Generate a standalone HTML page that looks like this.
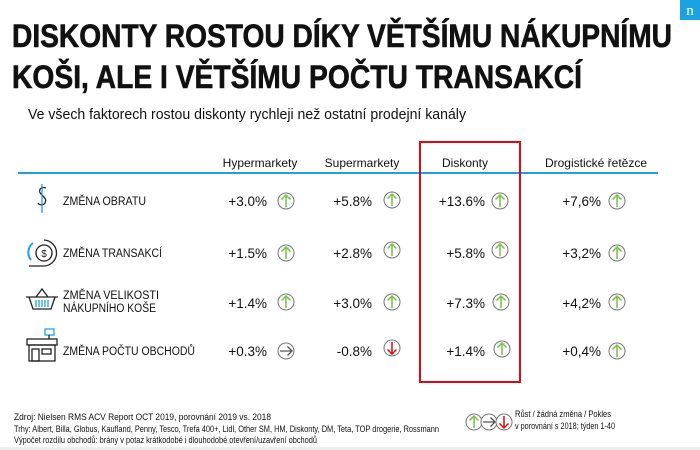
<!DOCTYPE html>
<html><head><meta charset="utf-8"><style>
html,body{margin:0;padding:0;background:#fff;width:700px;height:450px;overflow:hidden}
svg{display:block}
text{font-family:"Liberation Sans",Arial,sans-serif;fill:#111}
</style></head><body>
<svg width="700" height="450" viewBox="0 0 700 450" xmlns="http://www.w3.org/2000/svg">
<defs>
<g id="up"><circle r="8" fill="#fff" stroke="#777" stroke-width="1"/><path d="M0 6V-6M-4.5 -1.5L0 -6L4.5 -1.5" fill="none" stroke="#7ac143" stroke-width="1.5"/></g>
<g id="rt"><circle r="8" fill="#fff" stroke="#777" stroke-width="1"/><path d="M-6 0H6M1.5 -4.5L6 0L1.5 4.5" fill="none" stroke="#555" stroke-width="1.3"/></g>
<g id="dn"><circle r="8" fill="#fff" stroke="#777" stroke-width="1"/><path d="M0 -6V6M-4.5 1.5L0 6L4.5 1.5" fill="none" stroke="#e30613" stroke-width="1.5"/></g>
</defs>
<rect x="680" y="0" width="20" height="20" fill="#1aa3e0"/>
<text x="690" y="15" text-anchor="middle" font-size="15" style="fill:#fff;font-family:'Liberation Serif',serif">n</text>
<text x="12" y="47" font-size="32" font-weight="bold" textLength="660" lengthAdjust="spacingAndGlyphs" stroke="#111" stroke-width="0.6">DISKONTY ROSTOU DÍKY VĚTŠÍMU NÁKUPNÍMU</text>
<text x="12" y="88" font-size="32" font-weight="bold" textLength="570" lengthAdjust="spacingAndGlyphs" stroke="#111" stroke-width="0.6">KOŠI, ALE I VĚTŠÍMU POČTU TRANSAKCÍ</text>
<text x="28" y="119" font-size="15" textLength="438" lengthAdjust="spacingAndGlyphs">Ve všech faktorech rostou diskonty rychleji než ostatní prodejní kanály</text>
<g font-size="12" text-anchor="middle">
<text x="260" y="167">Hypermarkety</text><text x="362" y="167">Supermarkety</text>
<text x="465" y="167">Diskonty</text><text x="596" y="167">Drogistické řetězce</text>
</g>
<rect x="18" y="172" width="640" height="2" fill="#1aa3e0"/>
<rect x="420" y="142" width="100" height="240" fill="none" stroke="#e30613" stroke-width="2"/>
<g fill="none" stroke="#222" stroke-width="1.3">
<path d="M46 188c-6-2-8 3-5 6s6 5 4 9c-2 3-6 2-7 0"/><line x1="42" y1="184" x2="42" y2="213" stroke="#1aa3e0"/>
<circle cx="44" cy="253" r="8"/><path d="M44 240a13 13 0 1 1 -1 26h-14"/>
<path d="M33 243a12 12 0 0 0 -2 17" stroke="#1aa3e0" stroke-width="2"/>
<text x="44" y="257" font-size="10" text-anchor="middle" stroke="none" style="fill:#222">$</text>
<path d="M26 297h32M29 297l4 12h18l4-12M36 297l6-8l6 8"/>
<path d="M36 300v7M39 300v7M42 300v7M45 300v7M48 300v7" stroke="#1aa3e0"/>
<rect x="27" y="339" width="30" height="6"/><rect x="29" y="345" width="26" height="16"/>
<rect x="32" y="349" width="7" height="12"/><rect x="42" y="349" width="9" height="5"/>
<rect x="45" y="329" width="9" height="6" stroke="#1aa3e0"/><line x1="49" y1="335" x2="49" y2="339"/>
</g>
<g font-size="11.5">
<text x="63" y="205" textLength="83" lengthAdjust="spacingAndGlyphs">ZMĚNA OBRATU</text>
<text x="63" y="257" textLength="99" lengthAdjust="spacingAndGlyphs">ZMĚNA TRANSAKCÍ</text>
<text x="63" y="299" textLength="96" lengthAdjust="spacingAndGlyphs">ZMĚNA  VELIKOSTI</text>
<text x="63" y="312" textLength="93" lengthAdjust="spacingAndGlyphs">NÁKUPNÍHO KOŠE</text>
<text x="63" y="355" textLength="132" lengthAdjust="spacingAndGlyphs">ZMĚNA POČTU OBCHODŮ</text>
</g>
<g font-size="13.5" text-anchor="end">
<text x="267" y="206">+3.0%</text><text x="372" y="206">+5.8%</text><text x="485" y="206">+13.6%</text><text x="601" y="206">+7,6%</text>
<text x="267" y="258">+1.5%</text><text x="372" y="258">+2.8%</text><text x="485" y="258">+5.8%</text><text x="601" y="258">+3,2%</text>
<text x="267" y="308">+1.4%</text><text x="372" y="308">+3.0%</text><text x="485" y="308">+7.3%</text><text x="601" y="308">+4,2%</text>
<text x="267" y="356">+0.3%</text><text x="372" y="356">-0.8%</text><text x="485" y="356">+1.4%</text><text x="601" y="356">+0,4%</text>
</g>
<use href="#up" x="286" y="201"/><use href="#up" x="392" y="200"/><use href="#up" x="500" y="201"/><use href="#up" x="617" y="201"/>
<use href="#up" x="286" y="253"/><use href="#up" x="392" y="250"/><use href="#up" x="500" y="250"/><use href="#up" x="617" y="253"/>
<use href="#up" x="286" y="302"/><use href="#up" x="392" y="302"/><use href="#up" x="501" y="302"/><use href="#up" x="617" y="302"/>
<use href="#rt" x="286" y="351"/><use href="#dn" x="392" y="348"/><use href="#up" x="502" y="349"/><use href="#up" x="617" y="351"/>
<g font-size="9">
<text x="14" y="420" textLength="257" lengthAdjust="spacingAndGlyphs">Zdroj: Nielsen RMS ACV Report OCT 2019, porovnání 2019 vs. 2018</text>
<text x="14" y="432" textLength="425" lengthAdjust="spacingAndGlyphs">Trhy: Albert, Billa, Globus, Kaufland, Penny, Tesco, Trefa 400+, Lidl, Other SM, HM, Diskonty, DM, Teta, TOP drogerie, Rossmann</text>
<text x="14" y="443" textLength="303" lengthAdjust="spacingAndGlyphs">Výpočet rozdílu obchodů: brány v potaz krátkodobé i dlouhodobé otevření/uzavření obchodů</text>
<text x="515" y="417" textLength="96" lengthAdjust="spacingAndGlyphs">Růst / žádná změna / Pokles</text>
<text x="515" y="429" textLength="100" lengthAdjust="spacingAndGlyphs">v porovnání s 2018; týden 1-40</text>
</g>
<use href="#up" x="474" y="422"/>
<use href="#rt" x="489" y="422"/>
<use href="#dn" x="504" y="422"/>
<rect x="0" y="447" width="700" height="3" fill="#eee"/>
</svg>
</body></html>
